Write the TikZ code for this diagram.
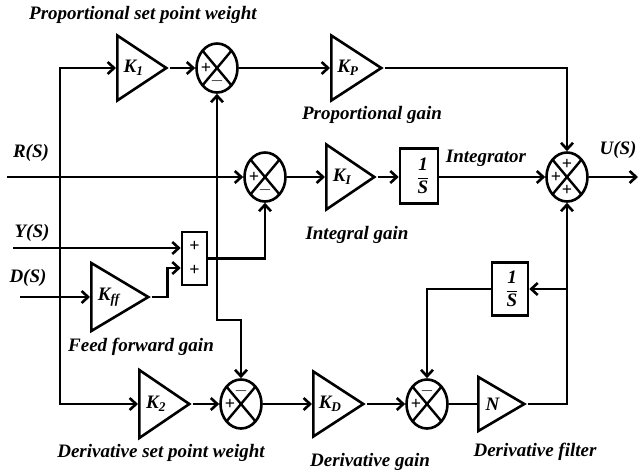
\documentclass[tikz,border=0pt]{standalone}
\usepackage{fontspec}
\setmainfont{Liberation Serif}
\usetikzlibrary{arrows.meta,shapes.geometric,calc}
\newcommand{\oneovers}{{\fontsize{19}{21}\selectfont$\displaystyle\frac{\mbox{\bfseries 1}}{\mbox{\bfseries\itshape S}}$}}
\begin{document}
\begin{tikzpicture}[x=1pt,y=-1pt,
  line width=2.6pt,
  every node/.style={font=\bfseries\itshape\fontsize{19}{21}\selectfont},
  lbl/.style={inner sep=0pt},
  sumnode/.style={ellipse, draw, minimum width=41pt, minimum height=49pt, inner sep=0pt,
    path picture={\draw[line width=2.4pt] (path picture bounding box.north west) -- (path picture bounding box.south east)
      (path picture bounding box.north east) -- (path picture bounding box.south west);}},
  arr/.style={-{Straight Barb[length=6.5pt,width=12pt]}},
  blk/.style={draw, rectangle, inner sep=0pt},
  sgn/.style={font=\bfseries\fontsize{18}{18}\selectfont, inner sep=0pt},
  tri/.style={draw, isosceles triangle, isosceles triangle stretches, shape border rotate=0,
    inner sep=0pt, anchor=lower side}
]
\useasboundingbox (0,0) rectangle (641,472);

% gain blocks (minimum height = length base-to-apex, minimum width = base)
\node[tri, minimum height=49pt, minimum width=65pt] (k1) at (116,68) {K\textsubscript{1}};
\node[tri, minimum height=50pt, minimum width=65pt] (kp) at (330,68) {K\textsubscript{P}};
\node[tri, minimum height=48pt, minimum width=65pt] (ki) at (325,177) {K\textsubscript{I}};
\node[tri, minimum height=57pt, minimum width=68pt] (kff) at (90,297) {K\textsubscript{ff}};
\node[tri, minimum height=50pt, minimum width=68pt] (k2) at (138,404) {K\textsubscript{2}};
\node[tri, minimum height=50pt, minimum width=65pt] (kd) at (312,404) {K\textsubscript{D}};
\node[tri, minimum height=46pt, minimum width=54pt] (nn) at (477,404) {N};

% summing junctions
\node[sumnode] (s1) at (217,68) {};
\node[sumnode] (s2) at (265,177) {};
\node[sumnode] (s3) at (567,177) {};
\node[sumnode] (s4) at (241,404) {};
\node[sumnode] (s5) at (427,404) {};

\node[sgn] (s1p) at ($(s1)+(-11,0)$) {+};
\node[sgn] (s1m) at ($(s1)+(0,13)$) {$-$};
\node[sgn] (s2p) at ($(s2)+(-11,0)$) {+};
\node[sgn] (s2m) at ($(s2)+(0,13)$) {$-$};
\node[sgn] (s3t) at ($(s3)+(0,-13)$) {+};
\node[sgn] (s3l) at ($(s3)+(-11,0)$) {+};
\node[sgn] (s3b) at ($(s3)+(0,13)$) {+};
\node[sgn] (s4m) at ($(s4)+(0,-13)$) {$-$};
\node[sgn] (s4p) at ($(s4)+(-11,0)$) {+};
\node[sgn] (s5m) at ($(s5)+(0,-13)$) {$-$};
\node[sgn] (s5p) at ($(s5)+(-11,0)$) {+};

% boxes
\node[blk, minimum width=38pt, minimum height=55pt] (int1) at (419,176) {};
\node[inner sep=0pt] (f1) at (423,176) {\oneovers};
\node[blk, minimum width=36pt, minimum height=53pt] (int2) at (510,289) {};
\node[inner sep=0pt] (f2) at (512,289) {\oneovers};
\node[blk, minimum width=25pt, minimum height=53pt] (pp) at (194.5,258.5) {};
\node[sgn] (ppa) at ($(pp)+(0,-12)$) {+};
\node[sgn] (ppb) at ($(pp)+(0,12)$) {+};

% free ends and junctions
\coordinate (rin) at (7,177);
\coordinate (rj) at (60,177);
\coordinate (yin) at (13,248);
\coordinate (din) at (20,297);
\coordinate (uout) at (638,177);
\coordinate (j2) at (pp.east -| s1.south);
\coordinate (jb) at (217,320);
\coordinate (j3) at (s3.south |- int2.east);
\coordinate (kffb) at ($(kff.apex)+(16,0)$);

\fill (rj) circle (1.9pt);

% connectors
\draw[arr] (rin) -- (s2.west);
\draw[arr] (rj) |- (k1.lower side);
\draw[arr] (rj) |- (k2.lower side);
\draw[arr] (k1.apex) -- (s1.west);
\draw[arr] (s1.east) -- (kp.lower side);
\draw[arr] (kp.apex) -| (s3.north);
\draw[arr] (s2.east) -- (ki.lower side);
\draw[arr] (ki.apex) -- (int1.west |- ki.apex);
\draw[arr] (int1.east |- s3.west) -- (s3.west);
\draw[arr] (s3.east) -- (uout);
\draw[arr] (yin) -- (yin -| pp.west);
\draw[arr] (din) -- (kff.lower side);
\draw[arr] (kff.apex) -- (kffb) |- ($(pp.west)+(0,9.5)$);
\draw[arr] (pp.east) -| (s2.south);
\draw[arr] (j2) -- (s1.south);
\draw[arr] (j2) -- (jb) -| (s4.north);
\draw[arr] (k2.apex) -- (s4.west);
\draw[arr] (s4.east) -- (kd.lower side);
\draw[arr] (kd.apex) -- (s5.west);
\draw (s5.east) -- (nn.lower side);
\draw[arr] (nn.apex) -| (s3.south);
\draw[arr] (j3) -- (int2.east |- j3);
\draw[arr] (int2.west |- j3) -| (s5.north);

% labels
\node[lbl] (l1) at (143,15) {Proportional set point weight};
\node[lbl] (l2) at (372,115) {Proportional gain};
\node[lbl] (l3) at (357,235) {Integral gain};
\node[lbl] (l4) at (486,158) {Integrator};
\node[lbl] (l5) at (141,347) {Feed forward gain};
\node[lbl] (l6) at (161,453) {Derivative set point weight};
\node[lbl] (l7) at (370,462) {Derivative gain};
\node[lbl] (l8) at (535,452) {Derivative filter};
\node[lbl] (lr) at (31,153) {R(S)};
\node[lbl] (ly) at (32,233) {Y(S)};
\node[lbl] (ld) at (28,278) {D(S)};
\node[lbl] (lu) at (618,150) {U(S)};
\end{tikzpicture}
\end{document}
